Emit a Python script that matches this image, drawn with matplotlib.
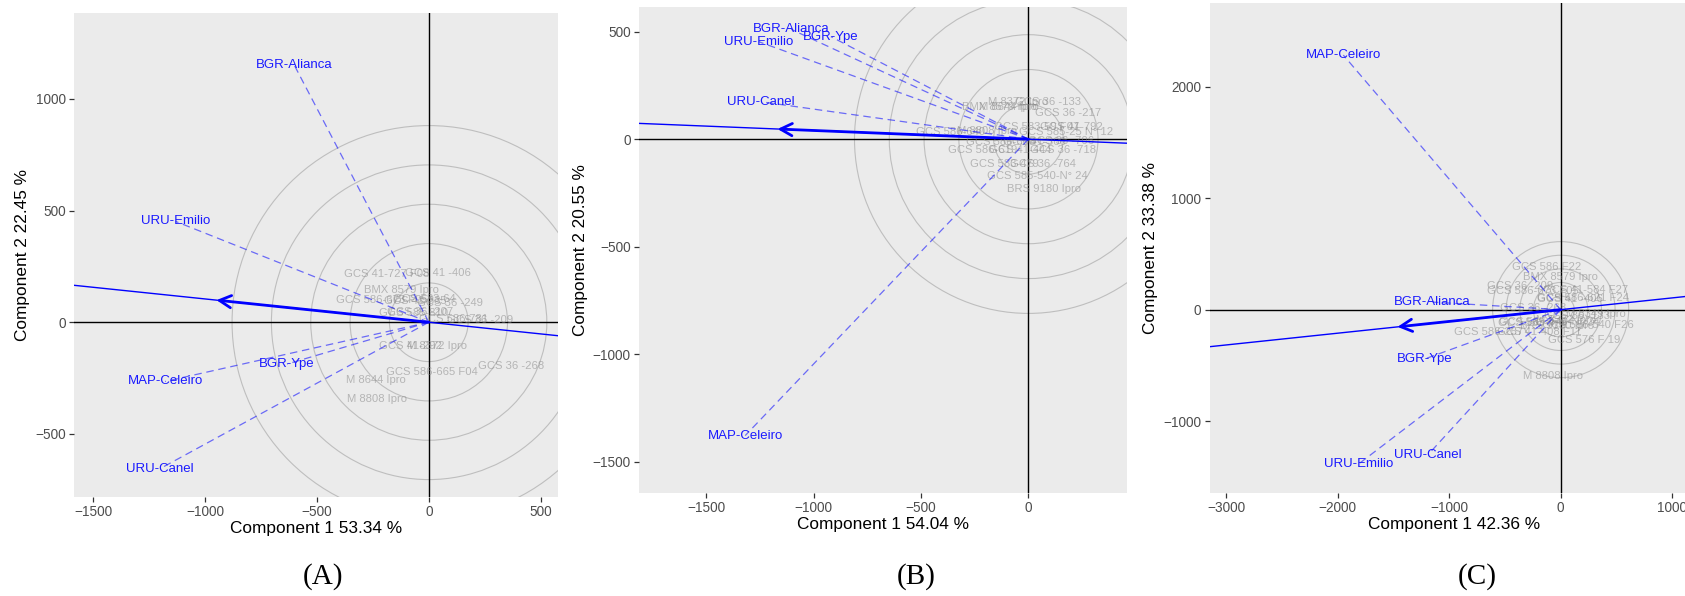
import numpy as np
import matplotlib.pyplot as plt
from matplotlib.patches import Circle

plt.rcParams['font.family'] = ['Liberation Sans', 'DejaVu Sans']

W, H = 1685, 596
fig = plt.figure(figsize=(W / 100, H / 100), dpi=100)

# ---------------- data ----------------
# panel A
env_names_a = ['BGR-Alianca', 'URU-Emilio', 'MAP-Celeiro', 'URU-Canel', 'BGR-Ype']
env_x_a = [-602, -1132, -1180, -1202, -634]
env_y_a = [1151, 451, -265, -655, -187]
gen_names_a = ['GCS 41-727 F08', 'GCS 41 -406', 'BMX 8579 Ipro', 'GCS 586-673 F05',
               'GCS 36 -249', 'GCS 41-335', 'GCS 583-64', 'GCS 36 -207', 'GCS 585-810',
               'GCS 586-781', 'GCS 36 -209', 'GCS 41-292', 'M 8372 Ipro',
               'GCS 586-665 F04', 'GCS 36 -268', 'M 8644 Ipro', 'M 8808 Ipro']
gen_x_a = [-190, 40, -122, -210, 94, -60, -20, -37, -70, 110, 230, -81, 38, 16, 369, -237, -231]
gen_y_a = [218, 222, 146, 98, 88, 95, 105, 46, 40, 15, 12, -108, -108, -223, -197, -260, -345]
radii_a = [176, 352, 528, 704, 880]

# panel B
env_names_b = ['BGR-Alianca', 'BGR-Ype', 'URU-Emilio', 'URU-Canel', 'MAP-Celeiro']
env_x_b = [-1105, -920, -1255, -1244, -1319]
env_y_b = [511, 477, 453, 174, -1378]
gen_names_b = ['M 8372 Ipro', 'GCS 36 -133', 'BMX 8579 Ipro', 'M 8644 Ipro', 'GCS 36 -217',
               'GCS 583-59 F07', 'GCS 41-792', 'GCS 585-25 N° 12', 'GCS 586-640', 'M 8808 Ipro',
               'GCS 586-608', 'GCS 41-366', 'GCS 36 -706', 'GCS 586-619', 'GCS 41-444',
               'GCS 36 -718', 'GCS 583-479', 'GCS 36 -764', 'GCS 585-540-N° 24', 'BRS 9180 Ipro']
gen_x_b = [-49, 92, -133, -90, 185, 40, 200, 177, -362, -195, -130, 30, 150, -215, -40, 160,
           -114, 66, 42, 73]
gen_y_b = [171, 171, 150, 148, 122, 57, 57, 34, 34, 36, -12, -14, -10, -51, -48, -51,
           -116, -116, -172, -233]
radii_b = [162, 324, 486, 648, 810]

# panel C
env_names_c = ['MAP-Celeiro', 'BGR-Alianca', 'BGR-Ype', 'URU-Emilio', 'URU-Canel']
env_x_c = [-1949, -1150, -1222, -1808, -1188]
env_y_c = [2283, 68, -443, -1381, -1299]
gen_names_c = ['GCS 586 F22', 'BMX 8579 Ipro', 'GCS 36 -209', 'GCS 586-673 F05',
               'GCS 41-584 F27', 'GCS 586-621 F24', 'GCS 41 -406', 'GCS 36 -268',
               'M 8349 Ipro', 'GCS 586-540 F26', 'GCS 586-257', 'GCS 41-408 F11',
               'GCS 576 F 19', 'M 8808 Ipro', 'GCS 585-540-N° 24', 'GCS 583-479',
               'M 8372 Ipro', 'BRS 9180 Ipro', 'GCS 36 -133']
gen_x_c = [-130, -5, -362, -250, 220, 200, 79, -250, 318, 240, -647, -190, 213, -73,
           -100, -250, 50, -30, 150]
gen_y_c = [386, 291, 213, 171, 177, 103, 94, 13, -40, -136, -196, -196, -271, -593,
           -110, -120, -90, -150, -60]
radii_c = [122, 244, 366, 488, 610]

# ---------------- drawing ----------------
BG = '#EBEBEB'


def panel(rect_px, xlim, ylim, xticks, yticks, xlabel, ylabel, radii,
          env_names, env_x, env_y, gen_names, gen_x, gen_y, letter, letter_x):
    l, t, r, b = rect_px
    ax = fig.add_axes([l / W, 1 - b / H, (r - l) / W, (b - t) / H])
    ax.set_facecolor(BG)
    for s in ax.spines.values():
        s.set_visible(False)
    ax.set_xlim(xlim)
    ax.set_ylim(ylim)
    ax.set_xticks(xticks)
    ax.set_yticks(yticks)
    ax.tick_params(direction='out', length=3.4, width=0.9, color='#333333',
                   labelcolor='#4D4D4D', labelsize=9.8, pad=2.5)

    for rad in radii:
        ax.add_patch(Circle((0, 0), rad, fill=False, ec='#BEBEBE', lw=0.8, zorder=2))
    ax.axhline(0, color='black', lw=1.0, zorder=2.5)
    ax.axvline(0, color='black', lw=1.0, zorder=2.5)

    for name, gx, gy in zip(gen_names, gen_x, gen_y):
        ax.text(gx, gy, name, color='#888888', alpha=0.55, fontsize=8.1,
                ha='center', va='center', zorder=3, clip_on=True)

    for ex, ey in zip(env_x, env_y):
        ax.plot([0, ex], [0, ey], color='blue', alpha=0.55, lw=0.9,
                dashes=(6, 3.8), zorder=4)

    mx, my = np.mean(env_x), np.mean(env_y)
    xs = np.array(xlim)
    ax.plot(xs, xs * my / mx, color='blue', lw=1.0, zorder=5)
    ax.annotate('', xy=(mx, my), xytext=(0, 0), zorder=5,
                arrowprops=dict(arrowstyle='->,head_length=0.42,head_width=0.22',
                                mutation_scale=20, lw=2.0, color='blue',
                                shrinkA=0, shrinkB=0))

    for name, ex, ey in zip(env_names, env_x, env_y):
        ax.text(ex, ey, name, color='#1a1aff', fontsize=9.5, ha='center',
                va='center', zorder=6, clip_on=True)

    ax.set_xlabel(xlabel, fontsize=12.4, labelpad=1.5)
    ax.set_ylabel(ylabel, fontsize=12.4, labelpad=3.5)
    fig.text(letter_x / W, 1 - 577 / H, letter, ha='center', va='center',
             family='Liberation Serif', fontsize=21)
    return ax


panel((73.8, 12.5, 558, 496.8), (-1588, 578), (-781, 1386),
      [-1500, -1000, -500, 0, 500], [-500, 0, 500, 1000],
      'Component 1 53.34 %', 'Component 2 22.45 %', radii_a,
      env_names_a, env_x_a, env_y_a, gen_names_a, gen_x_a, gen_y_a, '(A)', 323)

panel((638.9, 6.5, 1127, 493), (-1814, 459), (-1645, 617),
      [-1500, -1000, -500, 0], [-1500, -1000, -500, 0, 500],
      'Component 1 54.04 %', 'Component 2 20.55 %', radii_b,
      env_names_b, env_x_b, env_y_b, gen_names_b, gen_x_b, gen_y_b, '(B)', 916)

panel((1209.5, 3, 1699.5, 493), (-3149, 1245), (-1644, 2750),
      [-3000, -2000, -1000, 0, 1000], [-1000, 0, 1000, 2000],
      'Component 1 42.36 %', 'Component 2 33.38 %', radii_c,
      env_names_c, env_x_c, env_y_c, gen_names_c, gen_x_c, gen_y_c, '(C)', 1477)

fig.savefig('out.png', dpi=100)
